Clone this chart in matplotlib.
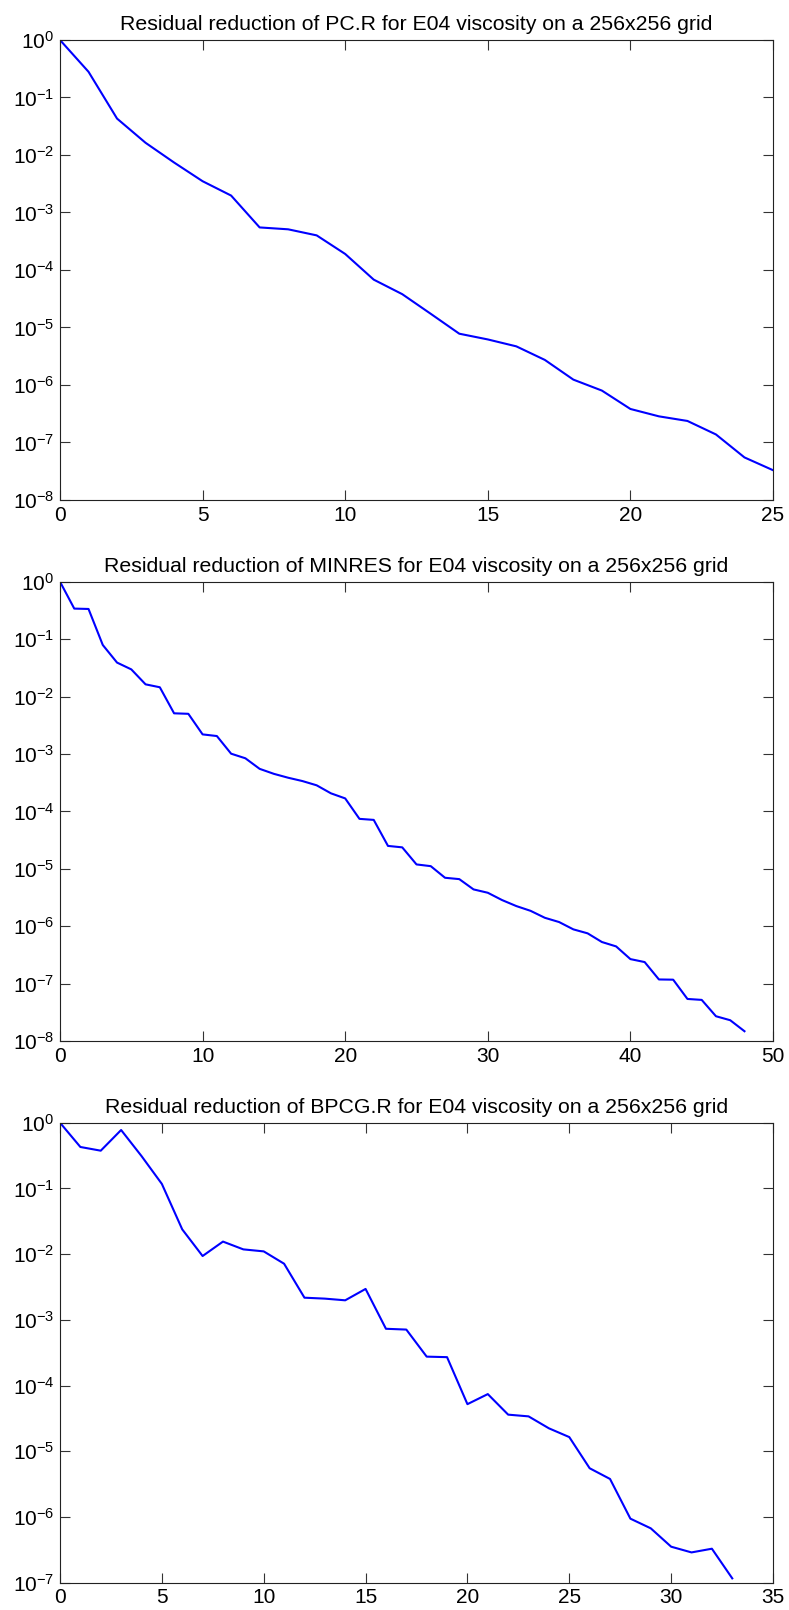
import matplotlib
matplotlib.use("Agg")
import matplotlib.pyplot as plt
from matplotlib.ticker import FixedLocator, FuncFormatter
import numpy as np

plt.rcParams['font.family'] = ['Liberation Sans', 'DejaVu Sans']
plt.rcParams['mathtext.fontset'] = 'custom'
plt.rcParams['mathtext.rm'] = 'Liberation Sans'
plt.rcParams['mathtext.it'] = 'Liberation Sans'
plt.rcParams['mathtext.default'] = 'regular'

titles = [
    "Residual reduction of PC.R for E04 viscosity on a 256x256 grid",
    "Residual reduction of MINRES for E04 viscosity on a 256x256 grid",
    "Residual reduction of BPCG.R for E04 viscosity on a 256x256 grid",
]

pcr_resid = [1.0, 0.28, 0.043, 0.0163, 0.0074, 0.0035, 0.00197, 5.5e-4, 5.1e-4, 4.0e-4,
             1.9e-4, 6.8e-5, 3.8e-5, 1.73e-5, 7.8e-6, 6.2e-6, 4.7e-6, 2.73e-6, 1.24e-6,
             8.0e-7, 3.83e-7, 2.85e-7, 2.37e-7, 1.38e-7, 5.5e-8, 3.3e-8]

minres_resid = [1.0, 0.34, 0.335, 0.079, 0.039, 0.0297, 0.0163, 0.0145, 0.0051, 0.0050,
                0.00219, 0.00205, 0.00101, 8.4e-4, 5.5e-4, 4.5e-4, 3.85e-4, 3.37e-4, 2.84e-4,
                2.06e-4, 1.68e-4, 7.4e-5, 7.1e-5, 2.5e-5, 2.36e-5, 1.19e-5, 1.11e-5, 6.97e-6,
                6.6e-6, 4.37e-6, 3.82e-6, 2.85e-6, 2.24e-6, 1.85e-6, 1.40e-6, 1.18e-6, 8.8e-7,
                7.5e-7, 5.3e-7, 4.44e-7, 2.67e-7, 2.37e-7, 1.18e-7, 1.17e-7, 5.4e-8, 5.2e-8,
                2.7e-8, 2.3e-8, 1.48e-8]

bpcgr_resid = [1.0, 0.427, 0.375, 0.774, 0.311, 0.117, 0.0238, 0.00935, 0.0155, 0.0118,
               0.0110, 0.00714, 0.00217, 0.0021, 0.00198, 0.00295, 7.3e-4, 7.1e-4, 2.75e-4,
               2.7e-4, 5.2e-5, 7.4e-5, 3.6e-5, 3.39e-5, 2.23e-5, 1.64e-5, 5.5e-6, 3.78e-6,
               9.4e-7, 6.7e-7, 3.52e-7, 2.88e-7, 3.28e-7, 1.16e-7]

series = [pcr_resid, minres_resid, bpcgr_resid]
xmax = [25, 50, 35]
xstep = [5, 10, 5]
ymin_exp = [-8, -8, -7]

W, H = 789, 1610
fig = plt.figure(figsize=(W / 100, H / 100), dpi=100)
boxes = [(40, 500), (581.7, 1041), (1122.7, 1582.6)]
left, right = 60, 773


def fmt(v, pos):
    e = int(round(np.log10(v)))
    return r'$10^{%d}$' % e


for k in range(3):
    top, bot = boxes[k]
    ax = fig.add_axes([left / W, 1 - bot / H, (right - left) / W, (bot - top) / H])
    y = series[k]
    x = np.arange(len(y))
    ax.semilogy(x, y, color='#0000ff', lw=1.5)
    ax.set_xlim(0, xmax[k])
    ax.set_ylim(10.0 ** ymin_exp[k], 1.0)
    ax.xaxis.set_major_locator(FixedLocator(np.arange(0, xmax[k] + 1, xstep[k])))
    ax.yaxis.set_major_locator(FixedLocator([10.0 ** e for e in range(ymin_exp[k], 1)]))
    ax.yaxis.set_minor_locator(FixedLocator([]))
    ax.yaxis.set_major_formatter(FuncFormatter(fmt))
    ax.tick_params(direction='in', length=7, width=0.8, top=True, right=True,
                   labelsize=15, pad=4, color='#333333')
    for s in ax.spines.values():
        s.set_linewidth(0.8)
        s.set_color('#222222')
    ax.set_title(titles[k], fontsize=15.3, pad=7)

fig.savefig('out.png', dpi=100)
